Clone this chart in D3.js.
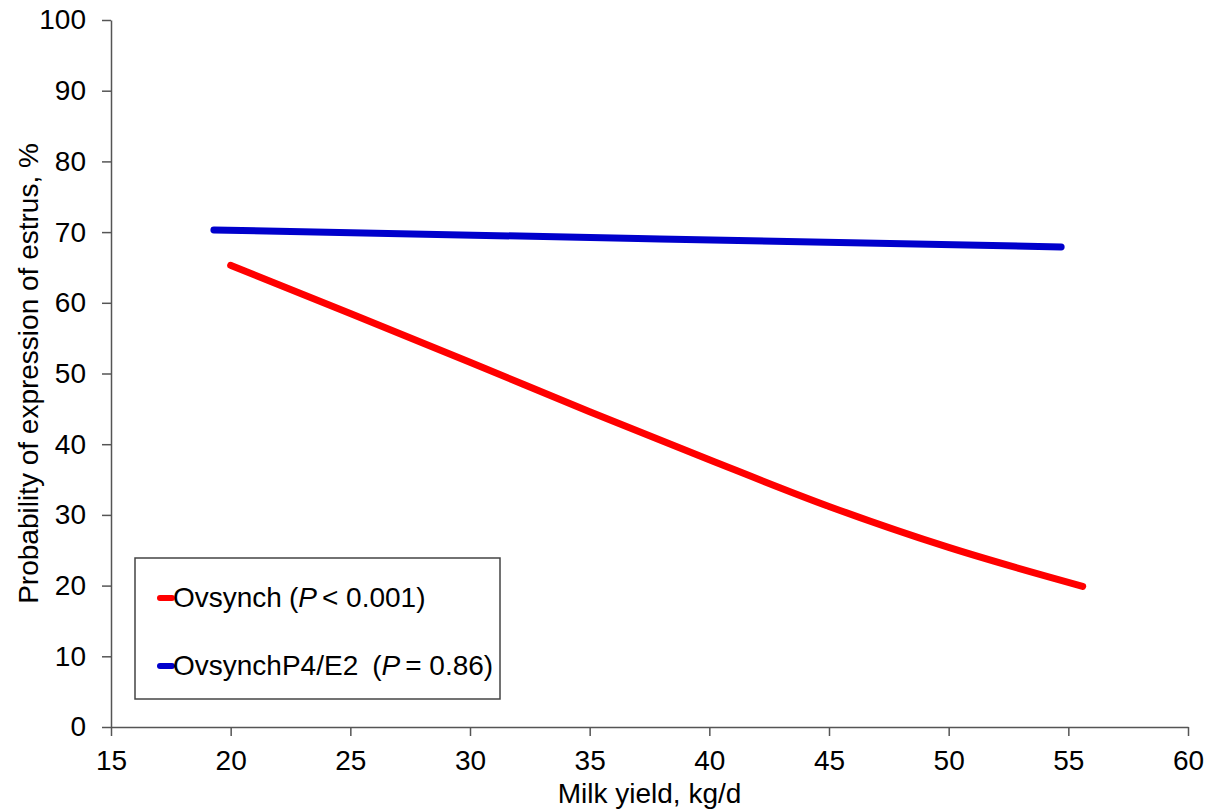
<!DOCTYPE html>
<html>
<head>
<meta charset="utf-8">
<script src="https://cdn.jsdelivr.net/npm/d3@7"></script>
<style>
  body { margin: 0; background: #fff; }
  text { font-family: "Liberation Sans", Arial, sans-serif; fill: #000; }
</style>
</head>
<body>
<div id="chart"></div>
<script>
// milk yield (kg/d) vs probability of estrus (%)
var ovsynchX = [20, 25, 30, 35, 40, 45, 50, 55.6];
var ovsynchY = [65.3, 58.5, 51.6, 44.6, 37.8, 31.2, 25.4, 19.9];
var p4e2X = [19.3, 37, 54.7];
var p4e2Y = [70.3, 69.1, 67.9];
var xTicks = [15, 20, 25, 30, 35, 40, 45, 50, 55, 60];
var yTicks = [0, 10, 20, 30, 40, 50, 60, 70, 80, 90, 100];
var seriesNames = ["Ovsynch", "OvsynchP4/E2"];
var seriesP = ["< 0.001", "= 0.86"];
var seriesColors = ["#ff0000", "#0000cc"];

window.onload = function() {

	var width = 1215, height = 809;
	var margin = {left: 111, right: 27, top: 20, bottom: 82};

	var svg = d3.select("#chart")
		.append("svg")
		.attr("width", width)
		.attr("height", height);

	var x = d3.scaleLinear().domain([15, 60]).range([margin.left, width - margin.right]);
	var y = d3.scaleLinear().domain([0, 100]).range([height - margin.bottom, margin.top]);

	var xAxis = svg.append("g")
		.attr("transform", "translate(0," + y(0) + ")")
		.call(d3.axisBottom(x).tickValues(xTicks).tickSize(9).tickPadding(14).tickSizeOuter(0));

	var yAxis = svg.append("g")
		.attr("transform", "translate(" + x(15) + ",0)")
		.call(d3.axisLeft(y).tickValues(yTicks).tickSize(9).tickPadding(16).tickSizeOuter(0));

	[xAxis, yAxis].forEach(function(a) {
		a.select(".domain").attr("stroke", "#555").attr("stroke-width", 1.5);
		a.selectAll(".tick line").attr("stroke", "#555").attr("stroke-width", 1.5);
		a.selectAll(".tick text").attr("font-size", 28).attr("fill", "#000")
			.attr("font-family", "Liberation Sans, Arial, sans-serif");
	});

	svg.append("text")
		.attr("x", (x(15) + x(60)) / 2)
		.attr("y", 803)
		.attr("text-anchor", "middle")
		.attr("font-size", 28)
		.text("Milk yield, kg/d");

	svg.append("text")
		.attr("transform", "translate(38," + (y(0) + y(100)) / 2 + ") rotate(-90)")
		.attr("text-anchor", "middle")
		.attr("font-size", 28)
		.text("Probability of expression of estrus, %");

	var line = d3.line()
		.x(function(d) { return x(d[0]); })
		.y(function(d) { return y(d[1]); })
		.curve(d3.curveMonotoneX);

	var series = [d3.zip(ovsynchX, ovsynchY), d3.zip(p4e2X, p4e2Y)];

	svg.selectAll("path.curve")
		.data(series)
		.enter()
		.append("path")
		.attr("class", "curve")
		.attr("d", line)
		.attr("fill", "none")
		.attr("stroke", function(d, i) { return seriesColors[i]; })
		.attr("stroke-width", 7)
		.attr("stroke-linecap", "round");

	// legend
	var lg = svg.append("g");
	lg.append("rect")
		.attr("x", 135).attr("y", 558)
		.attr("width", 365).attr("height", 141)
		.attr("fill", "#fff")
		.attr("stroke", "#444")
		.attr("stroke-width", 1.5);

	var rows = [598, 666];
	seriesNames.forEach(function(name, i) {
		lg.append("line")
			.attr("x1", 160).attr("x2", 172)
			.attr("y1", rows[i]).attr("y2", rows[i])
			.attr("stroke", seriesColors[i])
			.attr("stroke-width", 6)
			.attr("stroke-linecap", "round");
		var t = lg.append("text")
			.attr("x", 173)
			.attr("y", rows[i] + 9)
			.attr("font-size", 28);
		t.append("tspan").text(name);
		t.append("tspan").attr("dx", i === 0 ? 7 : 14).text("(");
		t.append("tspan").attr("font-style", "italic").text("P");
		t.append("tspan").attr("dx", 5).text(seriesP[i] + ")");
	});
}
</script>
</body>
</html>
